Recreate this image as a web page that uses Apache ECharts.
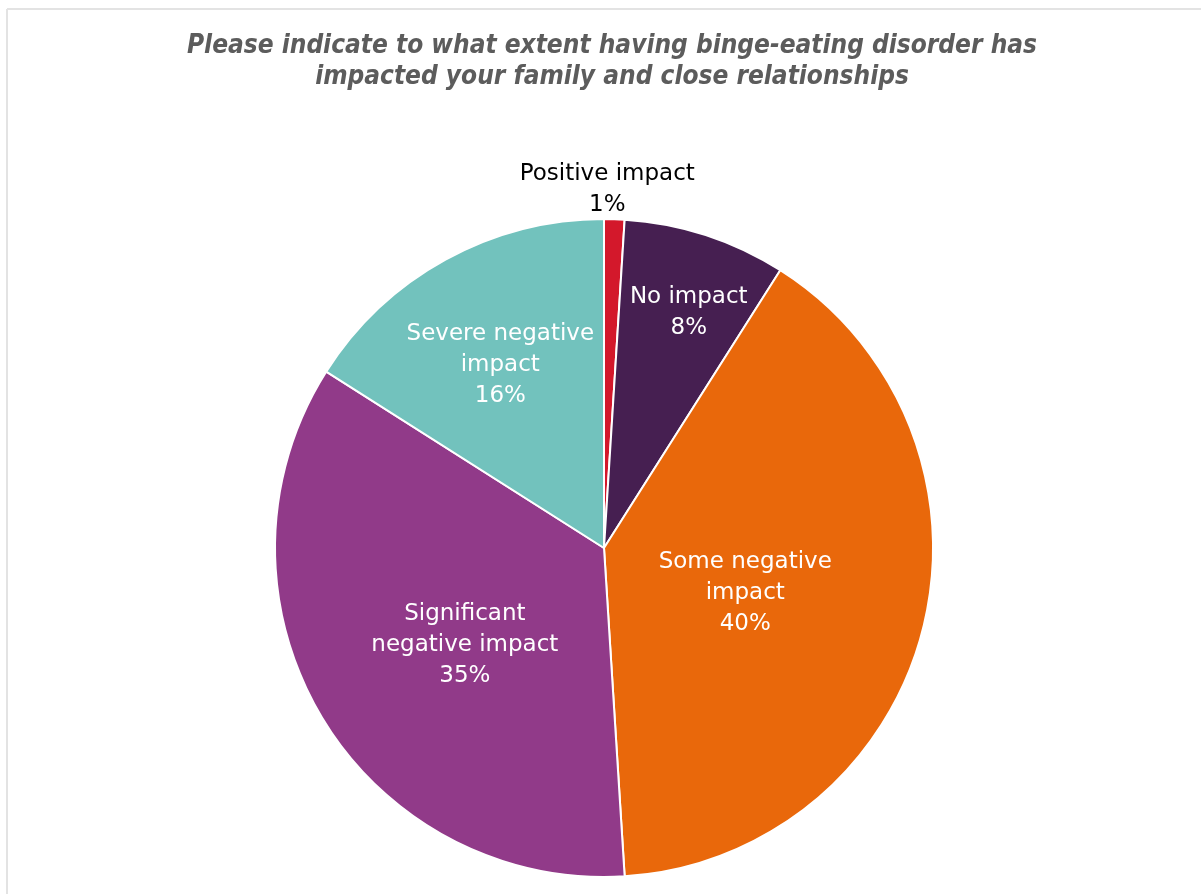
<!DOCTYPE html>
<html>
<head>
<meta charset="utf-8">
<script src="https://cdn.jsdelivr.net/npm/echarts@6/dist/echarts.min.js"></script>
<style>
  html, body { margin: 0; padding: 0; background: #fff; }
  #chart { width: 1201px; height: 894px; }
</style>
</head>
<body>
<div id="chart"></div>
<script>
// Survey answers, clockwise from twelve o'clock
const categories = [
  'Positive impact',
  'No impact',
  'Some negative\nimpact',
  'Significant\nnegative impact',
  'Severe negative\nimpact'
];
const percentages = [1, 8, 40, 35, 16];

const palette = ['#D3182B', '#461F51', '#E9680B', '#913A89', '#72C2BD'];
// label nudges inside each slice (dx, dy in px)
const labelNudge = [[-2, -191], [33, -76], [-21, 3], [5, 12], [-23, -36]];

const chart = echarts.init(document.getElementById('chart'), null, { renderer: 'canvas' });

chart.setOption({
  backgroundColor: '#ffffff',
  animation: false,
  title: {
    text: 'Please indicate to what extent having binge-eating disorder has\nimpacted your family and close relationships',
    left: 607,
    top: 26,
    textAlign: 'center',
    textStyle: {
      fontFamily: 'DejaVu Sans Condensed',
      fontStyle: 'italic',
      fontWeight: 'bold',
      fontSize: 26,
      lineHeight: 31,
      color: '#5c5c5c'
    }
  },
  graphic: [
    { type: 'line', shape: { x1: 7, y1: 9, x2: 1201, y2: 9 }, style: { stroke: '#e3e3e3', lineWidth: 2 } },
    { type: 'line', shape: { x1: 7, y1: 9, x2: 7, y2: 894 }, style: { stroke: '#e3e3e3', lineWidth: 2 } }
  ],
  series: [{
    type: 'pie',
    center: [604, 548],
    radius: 329,
    startAngle: 90,
    clockwise: true,
    avoidLabelOverlap: false,
    itemStyle: { borderColor: '#ffffff', borderWidth: 2 },
    label: {
      show: true,
      position: 'inside',
      formatter: p => p.name + '\n' + p.value + '%',
      fontFamily: 'DejaVu Sans',
      fontSize: 23,
      lineHeight: 31,
      color: '#ffffff',
      align: 'center'
    },
    labelLine: { show: false },
    labelLayout: p => ({ dx: labelNudge[p.dataIndex][0], dy: labelNudge[p.dataIndex][1] }),
    data: categories.map((name, i) => ({
      name: name,
      value: percentages[i],
      itemStyle: { color: palette[i] },
      label: i === 0 ? { color: '#000000' } : undefined
    }))
  }]
});
</script>
</body>
</html>
